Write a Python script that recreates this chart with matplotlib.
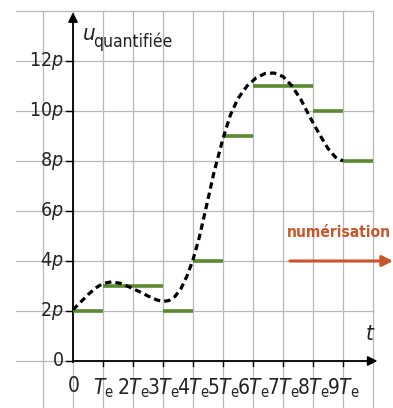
import matplotlib
matplotlib.use('Agg')
import matplotlib.pyplot as plt
from matplotlib import font_manager

# samples: quantified value held over each period (in units of p)
step_start = [0, 1, 3, 4, 5, 6, 8, 9]
step_end = [1, 3, 4, 5, 6, 8, 9, 10]
step_level = [2, 3, 2, 4, 9, 11, 10, 8]

# analog signal (t in Te, u in p)
curve_t = [0, 0.25, 0.5, 0.75, 1.0, 1.3, 1.6, 1.9, 2.2, 2.5, 2.8, 3.0, 3.2, 3.4,
           3.6, 3.8, 4.0, 4.2, 4.45, 4.7, 5.0, 5.25, 5.5, 5.8, 6.1, 6.4, 6.7,
           7.0, 7.3, 7.6, 7.9, 8.2, 8.5, 8.75, 9.0]
curve_u = [2.05, 2.35, 2.65, 2.92, 3.1, 3.17, 3.1, 2.95, 2.78, 2.6, 2.44, 2.38, 2.42, 2.58,
           2.9, 3.4, 4.05, 4.9, 6.2, 7.55, 8.9, 9.85, 10.5, 11.0, 11.32, 11.5, 11.52,
           11.38, 11.0, 10.45, 9.75, 9.1, 8.5, 8.15, 8.0]

y_ticks = [0, 2, 4, 6, 8, 10, 12]
y_labels = ['$0$', '$2p$', '$4p$', '$6p$', '$8p$', '$10p$', '$12p$']
x_ticks = list(range(10))
x_labels = ['$0$', r'$T_\mathrm{e}$'] + [r'$%dT_\mathrm{e}$' % k for k in range(2, 10)]

# look for a narrow sans font, the original uses a condensed face
fam, stretch = 'Liberation Sans', 'normal'
for f in font_manager.fontManager.ttflist:
    if f.style == 'normal' and ('Narrow' in f.name or 'Condensed' in f.name
                                or f.stretch in ('condensed', 'semi-condensed', 75, 87)):
        fam, stretch = f.name, f.stretch
        break
narrow = fam != 'Liberation Sans'
st = ':stretch=condensed' if (narrow and stretch not in ('normal', 400)) else ''
plt.rcParams['font.family'] = [fam, 'DejaVu Sans']
if narrow and st:
    plt.rcParams['font.stretch'] = 'condensed'
plt.rcParams['mathtext.fontset'] = 'custom'
plt.rcParams['mathtext.rm'] = fam + st
plt.rcParams['mathtext.it'] = fam + ':italic' + st

fs_y = 14 if narrow else 13.5
fs_x = 15 if narrow else 12.5
fs_num = 11.2 if narrow else 10.5

fig = plt.figure(figsize=(3.93, 4.08), dpi=100)
ax = fig.add_axes([0, 0, 1, 1])
ax.set_xlim(-2.433, 10.667)
ax.set_ylim(-1.88, 14.44)
ax.axis('off')

grid_c = '#b8b8b8'
for k in range(-1, 11):
    ax.plot([k, k], [-2, 14], color=grid_c, lw=0.9, zorder=1)
for v in range(-2, 15, 2):
    ax.plot([-1.9, 10], [v, v], color=grid_c, lw=0.9, zorder=1)

# axes with arrows
ax.annotate('', xy=(10.15, 0), xytext=(0, 0),
            arrowprops=dict(arrowstyle='-|>', color='black', lw=1.3,
                            mutation_scale=14, shrinkA=0, shrinkB=0), zorder=3)
ax.annotate('', xy=(0, 13.95), xytext=(0, -0.05),
            arrowprops=dict(arrowstyle='-|>', color='black', lw=1.3,
                            mutation_scale=14, shrinkA=0, shrinkB=0), zorder=3)

for v, lab in zip(y_ticks, y_labels):
    ax.plot([-0.23, 0], [v, v], color='black', lw=1.0, zorder=3)
    ax.text(-0.3, v, lab, ha='right', va='center', fontsize=fs_y, color='#222222')
for k, lab in zip(x_ticks, x_labels):
    if k > 0:
        ax.plot([k, k], [0, -0.2], color='black', lw=1.0, zorder=3)
    ax.text(k, -0.62, lab, ha='center', va='top', fontsize=fs_x, color='#222222')

ax.text(0.3, 12.85, '$u$', fontsize=16, ha='left', va='baseline', color='#222222')
ax.text(0.68, 12.55, 'quantifiée', fontsize=12.5, ha='left', va='baseline', color='#222222')
ax.text(9.72, 0.85, '$t$', fontsize=16, ha='left', va='baseline', color='#222222')

# quantified steps
for a, b, lv in zip(step_start, step_end, step_level):
    ax.plot([a, b], [lv, lv], color='#5a8a30', lw=2.6, solid_capstyle='butt', zorder=4)

# analog signal
ax.plot(curve_t, curve_u, color='black', lw=2.3, linestyle=(0, (2.0, 1.3)), zorder=5)

# digitisation arrow
orange = '#c9562a'
ax.text(7.12, 4.95, 'numérisation', fontsize=fs_num, fontweight='bold', color=orange,
        ha='left', va='baseline')
ax.annotate('', xy=(10.67, 4), xytext=(7.23, 4),
            arrowprops=dict(arrowstyle='-|>', color=orange, lw=2.2,
                            mutation_scale=16, shrinkA=0, shrinkB=0), zorder=3)

fig.savefig('out.png', dpi=100)
